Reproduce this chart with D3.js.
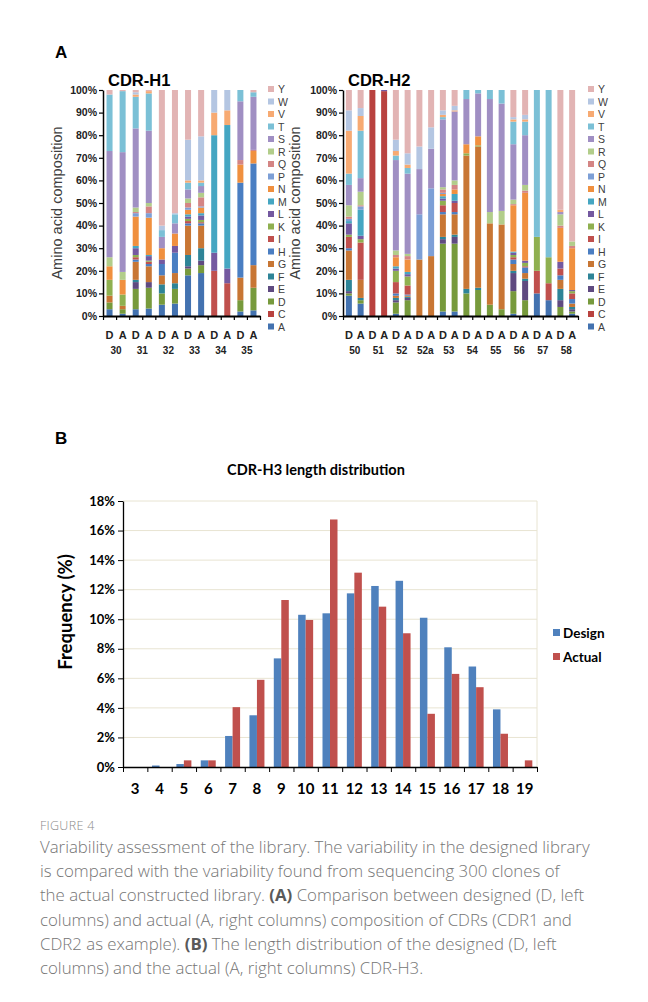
<!DOCTYPE html>
<html>
<head>
<meta charset="utf-8">
<script src="https://cdn.jsdelivr.net/npm/d3@7"></script>
<style>
  body { margin: 0; background: #fff; }
  svg { display: block; }
</style>
</head>
<body>
<script>
// stacking order, bottom -> top
const aminoAcids = ['A','C','D','E','F','G','H','I','K','L','M','N','P','Q','R','S','T','V','W','Y'];
const aaColors = ['#4372B0','#B9423F','#779A3C','#5F4A80','#2E8497','#C87634','#4A7EC2','#C0504D','#8FB050','#7459A0',
                  '#45A6C2','#F0903F','#7D9FD6','#D48584','#B2CD8A','#A08FC3','#7BC0D6','#F7AA72','#B4C6E2','#E2B4B4'];

const h1Positions = ['30','31','32','33','34','35'];
const h2Positions = ['50','51','52','52a','53','54','55','56','57','58'];

// % per amino acid (A..Y), one row per column: D then A for each position
const h1Columns = [
  [3,0,3,0,0,3,0,0,7,0,0,6,0,0,4,47,25,0,0,2],
  [1,0,2,0,0,1.5,0,0,5,0,0,6.5,0,0,3.5,53,27,0,0,0.5],
  [3,0,9,3,1,8,1,1,1,3,1,13,1.5,0.5,2,35,14,1,1,1],
  [3.3,0,9.2,2.5,0,7,1,1,0.5,2,0.5,16.5,2,3,1.5,32,16.5,1,0,0.5],
  [5,0,5,0,4,4,5,0,0,2,0,5,0,0,0,5,3,0,2,60],
  [5.5,0,6.5,0,2.5,4.5,9,0,0,3,0,5.5,0,0,0,4.5,4,0,0.5,54.5],
  [18,0,3,1,5,13,1,1,1,1,1,2,1,2,2,4,3,1,18,22],
  [19,0,3.5,2,5.5,10,1,0.5,1,2,1,2.5,0.5,4,2,3,1.5,1,19.5,20.5],
  [0,0,0,0,0,0,0,20,0,8,52,0,0,0,0,0,0,10,10,0],
  [0,0,0,0,0,0,0,14.5,0,6.5,63.5,0,0,0,0,0,0,6.5,9,0],
  [2,0,5,0,0,10,42,0,0,0,0,8,0,2,0,26,5,0,0,0],
  [2.5,0,10,0,0,10,45,0,0,0,0,5.5,0,0.5,0,23.5,2,0,0,1]
];

const h2Columns = [
  [9,0,1,1,5,13,1,5,1,5,1,0,1,1,5,9,5,19,9,9],
  [5.5,0,1.5,0,1,8,0,16.5,1.5,1.5,11.5,0,1.5,0.5,6,6,21,6.5,3.5,8],
  [0,100,0,0,0,0,0,0,0,0,0,0,0,0,0,0,0,0,0,0],
  [0,99.5,0,0,0,0,0,0,0,0.5,0,0,0,0,0,0,0,0,0,0],
  [1,0,5,1,1,1,1,5,5,1,1,4,0,1,2,40,2,2,5,22],
  [0,0,7,1,0.5,0.5,0.5,4,4,1,1,5.5,0,1.5,1,35.5,2.5,1.5,5,28],
  [0,0,0,0,0,25,0,0,0,0,0,0,20,0,0,20,0,0,10,25],
  [0,0,0,0,0,26.5,0,0,0,0,0,0,30,0,0,17.5,0,0,9.5,16.5],
  [2,0,30,2,1,10,1,3,2,1,1,1,0.5,1.5,1,30,1,1,2,9],
  [2,0,30,3,1,9,1,4,0,1,3,2,0,2,2,30.5,0,0.5,2,7],
  [0,0,10,0,2,59,0,0,1,0,0,4,0,0,0,20,4,0,0,0],
  [0,0,11.5,0,1,62.5,0,0,0.5,0,0,4,0,0,0,19,1.5,0,0,0],
  [0,0,5,0,0,36,0,0,0,0,0,0,0,0,5,50,4,0,0,0],
  [0,0,3,0,0,37.5,0,0,0,0,0,0,0,0,6,47.5,6,0,0,0],
  [1,0,10,8,1,3,2,1,1,1,0.5,20.5,0,0.5,2,24.5,10,1,1,12],
  [0,0,7,8.5,1,2.5,2.5,0.5,1.5,1,0,30,0,1,2.5,22,6,1,2,11],
  [10,0,0,0,0,0,0,10,15,0,0,0,0,0,0,0,65,0,0,0],
  [7,0,0,0,0,0,0,7.5,11.5,0,0,0,0,0,0,0,74,0,0,0],
  [0,0,4,3,5,4,2,3,0,3,0,15,0,1,5,1,0,1,0,53],
  [1,0,1,1,1,1.5,2,2.5,1,0.5,0,18.5,0,1,2,0,0,0,0,67]
];

const cdrH3Lengths = ['3','4','5','6','7','8','9','10','11','12','13','14','15','16','17','18','19'];
const designFreq = [0,0.1,0.2,0.45,2.1,3.5,7.35,10.3,10.4,11.75,12.25,12.6,10.1,8.1,6.8,3.9,0];
const actualFreq = [0,0,0.45,0.45,4.05,5.9,11.3,9.95,16.75,13.15,10.85,9.05,3.6,6.3,5.4,2.25,0.45];

const W = 648, H = 1002;
const svg = d3.select('body').append('svg').attr('width', W).attr('height', H);
svg.append('rect').attr('width', W).attr('height', H).attr('fill', '#fff');

const arial = 'Liberation Sans, Arial, sans-serif';
const calibri = 'Lato, Open Sans, sans-serif';
const color = d3.scaleOrdinal(aminoAcids, aaColors);

svg.append('text').attr('x', 55).attr('y', 58)
  .attr('font-family', arial).attr('font-weight', 'bold').attr('font-size', 17).text('A');

function drawComposition(opts) {
  const g = svg.append('g');
  const n = opts.columns.length;
  const rows = opts.columns.map((c, i) => {
    const o = { idx: i };
    aminoAcids.forEach((aa, k) => { o[aa] = c[k]; });
    return o;
  });
  const series = d3.stack().keys(aminoAcids)(rows);

  const x = d3.scaleBand().domain(d3.range(n)).range([opts.left, opts.right]).paddingInner(opts.pad).paddingOuter(opts.pad / 2);
  const y = d3.scaleLinear().domain([0, 100]).range([316, 90]);

  g.append('g').selectAll('g').data(series).join('g')
    .attr('fill', d => color(d.key))
    .selectAll('rect').data(d => d).join('rect')
    .attr('x', d => x(d.data.idx))
    .attr('width', x.bandwidth())
    .attr('y', d => y(d[1]))
    .attr('height', d => Math.max(0, y(d[0]) - y(d[1])));

  // y axis
  const ya = g.append('g').attr('transform', `translate(${opts.left},0)`)
    .call(d3.axisLeft(y).tickValues(d3.range(0, 101, 10)).tickFormat(d => d + '%').tickSize(4).tickSizeOuter(0));
  ya.select('.domain').attr('stroke', '#000').attr('stroke-width', 1.5);
  ya.selectAll('.tick line').attr('stroke', '#000').attr('stroke-width', 1.2);
  ya.selectAll('text').attr('font-family', arial).attr('font-weight', 'bold').attr('font-size', 10.5).attr('fill', '#222').attr('x', -6);

  // x axis with ticks at band boundaries
  const xb = d3.scaleLinear().domain([0, n]).range([opts.left, opts.right]);
  const xa = g.append('g').attr('transform', 'translate(0,316)')
    .call(d3.axisBottom(xb).tickValues(d3.range(0, n + 1)).tickFormat('').tickSize(4).tickSizeOuter(0));
  xa.select('.domain').attr('stroke', '#000').attr('stroke-width', 2);
  xa.selectAll('.tick line').attr('stroke', '#000').attr('stroke-width', 1.2);

  g.append('g').selectAll('text').data(d3.range(n)).join('text')
    .attr('x', i => x(i) + x.bandwidth() / 2).attr('y', 339)
    .attr('text-anchor', 'middle').attr('font-family', arial).attr('font-weight', 'bold')
    .attr('font-size', 11).attr('fill', '#222').text(i => i % 2 === 0 ? 'D' : 'A');
  g.append('g').selectAll('text').data(opts.positions).join('text')
    .attr('x', (p, i) => (x(2 * i) + x(2 * i + 1) + x.bandwidth()) / 2).attr('y', 354)
    .attr('text-anchor', 'middle').attr('font-family', arial).attr('font-weight', 'bold')
    .attr('font-size', 10).attr('fill', '#222').text(p => p);

  g.append('text').attr('x', opts.left + 5).attr('y', 86)
    .attr('font-family', arial).attr('font-weight', 'bold').attr('font-size', 16.5).text(opts.title);

  g.append('text').attr('transform', `translate(${opts.titleX},203) rotate(-90)`)
    .attr('text-anchor', 'middle').attr('font-family', arial).attr('font-size', 14.5)
    .attr('fill', '#404040').text('Amino acid composition');

  // legend, Y on top
  const leg = g.append('g').selectAll('g').data(aminoAcids.slice().reverse()).join('g')
    .attr('transform', (d, i) => `translate(${opts.legendX},${89 + i * 12.5})`);
  leg.append('rect').attr('x', 0).attr('y', -3).attr('width', 6).attr('height', 6).attr('fill', d => color(d));
  leg.append('text').attr('x', 10).attr('y', 4).attr('font-family', arial).attr('font-size', 10.5)
    .attr('fill', '#404040').text(d => d);
}

drawComposition({ columns: h1Columns, positions: h1Positions, left: 103, right: 260, pad: 0.54,
  title: 'CDR-H1', titleX: 62, legendX: 268 });
drawComposition({ columns: h2Columns, positions: h2Positions, left: 343, right: 578, pad: 0.49,
  title: 'CDR-H2', titleX: 300, legendX: 588 });

// ---- panel B
svg.append('text').attr('x', 55).attr('y', 444)
  .attr('font-family', arial).attr('font-weight', 'bold').attr('font-size', 17).text('B');

const gb = svg.append('g');
const bx0 = d3.scaleBand().domain(cdrH3Lengths).range([123, 537]);
const bx1 = d3.scaleBand().domain(['Design', 'Actual'])
  .range([bx0.bandwidth() / 2 - 7.5, bx0.bandwidth() / 2 + 7.5]);
const by = d3.scaleLinear().domain([0, 18]).range([767, 501]);
const seriesColor = { Design: '#4F81BD', Actual: '#C0504D' };

gb.append('g').selectAll('line').data(d3.range(2, 19, 2)).join('line')
  .attr('x1', 123).attr('x2', 537).attr('y1', d => by(d)).attr('y2', d => by(d))
  .attr('stroke', '#E8E4D2').attr('stroke-width', 1);
gb.append('line').attr('x1', 537).attr('x2', 537).attr('y1', by(18)).attr('y2', by(0))
  .attr('stroke', '#E8E4D2');

const barData = cdrH3Lengths.map((l, i) => ({ len: l, Design: designFreq[i], Actual: actualFreq[i] }));
gb.append('g').selectAll('g').data(barData).join('g')
  .attr('transform', d => `translate(${bx0(d.len)},0)`)
  .selectAll('rect').data(d => ['Design', 'Actual'].map(k => ({ k, v: d[k] }))).join('rect')
  .attr('x', d => bx1(d.k)).attr('width', bx1.bandwidth())
  .attr('y', d => by(d.v)).attr('height', d => by(0) - by(d.v))
  .attr('fill', d => seriesColor[d.k]);

const bya = gb.append('g').attr('transform', 'translate(123,0)')
  .call(d3.axisLeft(by).tickValues(d3.range(0, 19, 2)).tickFormat(d => d + '%').tickSize(5).tickSizeOuter(0));
bya.select('.domain').attr('stroke', '#000').attr('stroke-width', 1.3);
bya.selectAll('.tick line').attr('stroke', '#000');
bya.selectAll('text').attr('font-family', calibri).attr('font-weight', 'bold').attr('font-size', 13)
  .attr('fill', '#000').attr('x', -8);

const bxb = d3.scaleLinear().domain([0, cdrH3Lengths.length]).range([123, 537]);
const bxa = gb.append('g').attr('transform', 'translate(0,767)')
  .call(d3.axisBottom(bxb).tickValues(d3.range(0, cdrH3Lengths.length + 1)).tickFormat('').tickSize(5).tickSizeOuter(0));
bxa.select('.domain').attr('stroke', '#000').attr('stroke-width', 1.5);
bxa.selectAll('.tick line').attr('stroke', '#000');
gb.append('g').selectAll('text').data(cdrH3Lengths).join('text')
  .attr('x', d => bx0(d) + bx0.bandwidth() / 2).attr('y', 794)
  .attr('text-anchor', 'middle').attr('font-family', calibri).attr('font-weight', 'bold')
  .attr('font-size', 15).text(d => d);

gb.append('text').attr('x', 316).attr('y', 475).attr('text-anchor', 'middle')
  .attr('font-family', calibri).attr('font-weight', 'bold').attr('font-size', 14.5).text('CDR-H3 length distribution');
gb.append('text').attr('transform', 'translate(72,612) rotate(-90)').attr('text-anchor', 'middle')
  .attr('font-family', calibri).attr('font-weight', 'bold').attr('font-size', 18.5).text('Frequency (%)');

const bleg = gb.append('g').selectAll('g').data(['Design', 'Actual']).join('g')
  .attr('transform', (d, i) => `translate(553,${633 + i * 24})`);
bleg.append('rect').attr('x', 0).attr('y', -4).attr('width', 7).attr('height', 7).attr('fill', d => seriesColor[d]);
bleg.append('text').attr('x', 10).attr('y', 5).attr('font-family', calibri).attr('font-weight', 'bold')
  .attr('font-size', 13.5).text(d => d);

// ---- caption
const cap = svg.append('g').attr('font-family', 'Open Sans, Lato, sans-serif').attr('fill', '#757575')
  .attr('font-weight', 300);
cap.append('text').attr('x', 40).attr('y', 830).attr('font-size', 12.5).attr('fill', '#8a8a8a')
  .attr('letter-spacing', 0.3).text('FIGURE 4');
const captionLines = [
  [['Variability assessment of the library. The variability in the designed library', false]],
  [['is compared with the variability found from sequencing 300 clones of', false]],
  [['the actual constructed library. ', false], ['(A)', true], [' Comparison between designed (D, left', false]],
  [['columns) and actual (A, right columns) composition of CDRs (CDR1 and', false]],
  [['CDR2 as example). ', false], ['(B)', true], [' The length distribution of the designed (D, left', false]],
  [['columns) and the actual (A, right columns) CDR-H3.', false]]
];
const lineEls = captionLines.map((parts, i) => {
  const t = cap.append('text').attr('x', 40).attr('y', 853 + i * 24.2).attr('font-size', 15);
  parts.forEach(([s, b]) => {
    const ts = t.append('tspan').text(s);
    if (b) ts.attr('font-weight', 'bold').attr('fill', '#5a5a5a');
  });
  return t;
});
// fit first line width to the reference (~550px)
const w0 = lineEls[0].node().getComputedTextLength();
const fs = 15 * 550 / w0;
lineEls.forEach(t => t.attr('font-size', fs));
</script>
</body>
</html>
